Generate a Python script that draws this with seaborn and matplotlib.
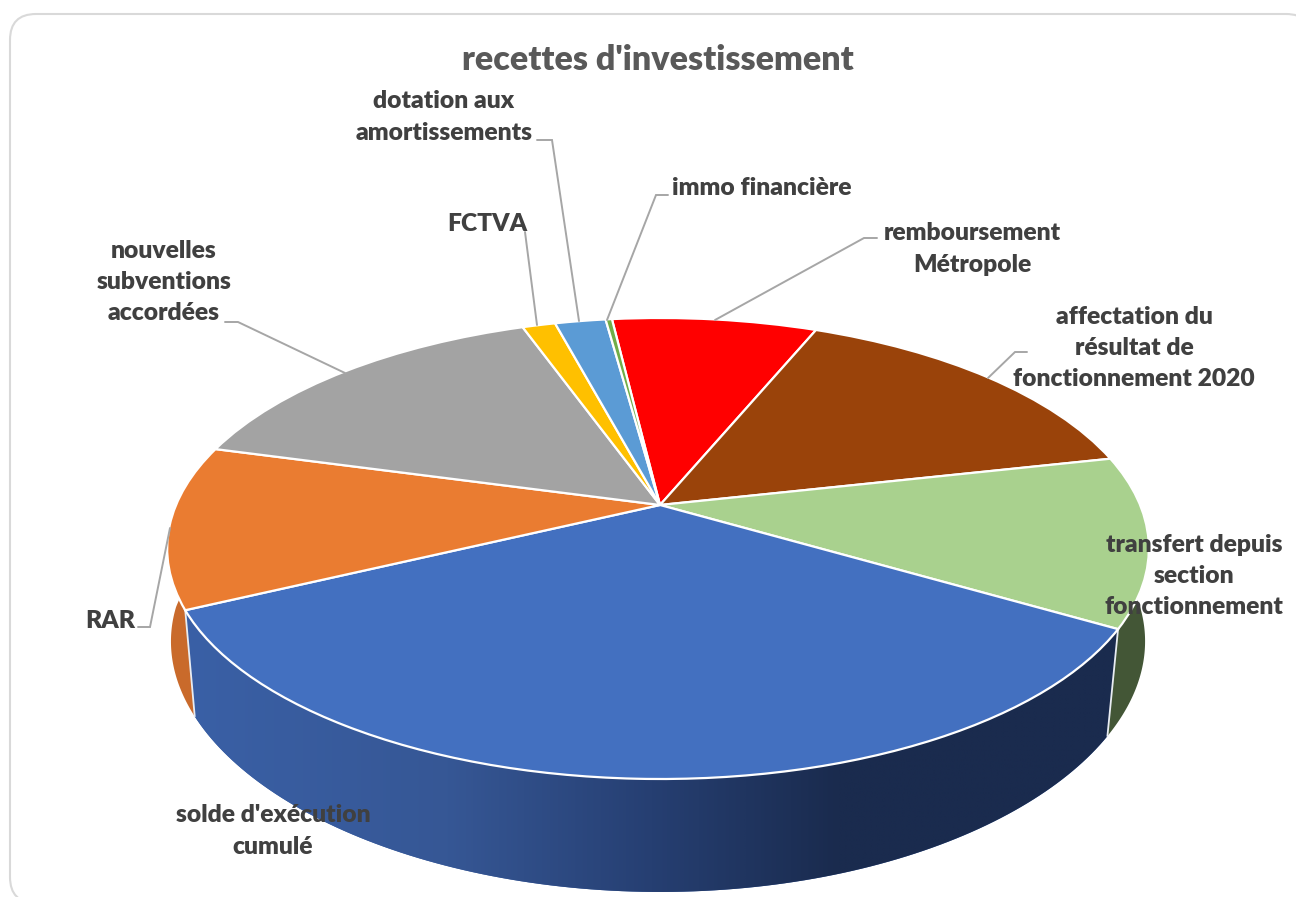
import numpy as np
import matplotlib
matplotlib.use("Agg")
import matplotlib.pyplot as plt
from matplotlib.colors import LinearSegmentedColormap
from matplotlib.patches import FancyBboxPatch, Polygon
from matplotlib.transforms import Transform
import seaborn as sns

# Budget shares in percent, clockwise from the red slice
categories = ["remboursement\nMétropole",
              "affectation du\nrésultat de\nfonctionnement 2020",
              "transfert depuis\nsection\nfonctionnement",
              "solde d'exécution\ncumulé",
              "RAR",
              "nouvelles\nsubventions\naccordées",
              "FCTVA",
              "dotation aux\namortissements",
              "immo financière"]
shares = [8.1, 15.3, 11.9, 34.4, 11.4, 15.3, 1.3, 2.0, 0.25]
slice_colors = ["#ff0000", "#9a430a", "#a9d18e", "#4370c0", "#ea7c31",
                "#a3a3a3", "#ffc000", "#5b9bd5", "#70ad47"]
side_colors = ["#b00000", "#6c2f06", "#435636", "#3a60a6", "#c96a2b",
               "#727272", "#b08500", "#3f6c94", "#4e7831"]

label_centres = [(972, 249), (1134, 348), (1194, 576), (273, 831), (110, 621),
                 (164, 282), (487, 224), (444, 117), (762, 188)]
leaders = [[(877, 238), (864, 238), (715, 320)],
           [(1027, 352), (1015, 352), (988, 378)],
           [],
           [],
           [(138, 627), (150, 627), (170, 528)],
           [(225, 322), (238, 322), (345, 373)],
           [(525, 232), (537, 325)],
           [(537, 140), (552, 140), (579, 321)],
           [(668, 195), (656, 195), (607, 320)]]
title = "recettes d'investissement"

# Side wall shading of the large slice, left to right
wall_stops = ["#3a60a6", "#365795", "#263f72", "#1a2b4e", "#1a2b4e"]
wall_positions = [0.0, 0.28, 0.5, 0.7, 1.0]

W, H = 1296, 897
CX, CY = 660.0, 505.0
SPREAD, TILT, SKEW, LIFT = 482.0, 0.1887, 0.004, -127.0


class TiltedDisc(Transform):
    """Projects the unit disc onto the tilted top face of the pie."""
    input_dims = output_dims = 2
    is_affine = False
    has_inverse = False

    def transform_non_affine(self, values):
        values = np.asarray(values, dtype=float)
        u, v = values[:, 0], values[:, 1]
        d = 1 + TILT * v
        return np.column_stack((CX + SPREAD * u / (d + SKEW * u), (LIFT * v + CY) / d))


def lower_rim(points, v):
    """Moves points of the top face down onto the base of the pie."""
    narrowing = 1 + 0.046 * np.minimum(v, 0)
    return np.column_stack((CX + narrowing * (points[:, 0] - CX),
                            607 + 1.04 * (points[:, 1] - CY)))


sns.set_theme(style="white")
plt.rcParams["font.family"] = ["Lato", "DejaVu Sans"]

fig = plt.figure(figsize=(W / 100, H / 100), dpi=100, facecolor="white")
ax = fig.add_axes([0, 0, 1, 1])

wedges, _ = ax.pie(shares, colors=slice_colors, startangle=96.8, counterclock=False,
                   wedgeprops={"edgecolor": "white", "linewidth": 1.6, "zorder": 5})
ax.set_aspect("auto")
ax.set_xlim(0, W)
ax.set_ylim(H, 0)
ax.axis("off")

disc = TiltedDisc()
for wedge in wedges:
    wedge.set_transform(disc + ax.transData)

# Outer card, running past the right and bottom edges
ax.add_patch(FancyBboxPatch((10, 14), 1302, 889, boxstyle="round,pad=0,rounding_size=26",
                            facecolor="white", edgecolor="#d9d9d9", linewidth=1.5, zorder=0))

# Side walls follow the angles the pie assigned to each slice
wall_cmap = LinearSegmentedColormap.from_list("wall", list(zip(wall_positions, wall_stops)))
gradient = np.linspace(0, 1, 512).reshape(1, -1)
for i, wedge in enumerate(wedges):
    angles = np.radians(np.linspace(wedge.theta1, wedge.theta2, 120))
    top = disc.transform(np.column_stack((np.cos(angles), np.sin(angles))))
    bottom = lower_rim(top, np.sin(angles))
    outline = np.vstack((top, bottom[::-1]))
    wall = Polygon(outline, closed=True, facecolor=side_colors[i], edgecolor="none", zorder=2)
    ax.add_patch(wall)
    if categories[i].startswith("solde"):
        image = ax.imshow(gradient, cmap=wall_cmap, extent=(186, 1118, 900, 600),
                          aspect="auto", zorder=3, interpolation="bilinear")
        image.set_clip_path(wall)
        ax.set_xlim(0, W)
        ax.set_ylim(H, 0)
        for point, low in ((top[0], bottom[0]), (top[-1], bottom[-1])):
            ax.plot([point[0], low[0]], [point[1], low[1]], color="#e8ecf2", lw=1.3, zorder=4)

# Leader lines and labels
for path in leaders:
    if path:
        xs, ys = zip(*path)
        ax.plot(xs, ys, color="#a6a6a6", lw=1.4, zorder=6, solid_joinstyle="miter")

for name, (x, y) in zip(categories, label_centres):
    ax.text(x, y, name, ha="center", va="center", fontsize=17.7, color="#404040",
            fontweight=800, linespacing=1.52, zorder=7)

ax.text(658, 60, title, ha="center", va="center", fontsize=24.5, color="#595959",
        fontweight=800, zorder=7)

fig.savefig("out.png", dpi=100)
